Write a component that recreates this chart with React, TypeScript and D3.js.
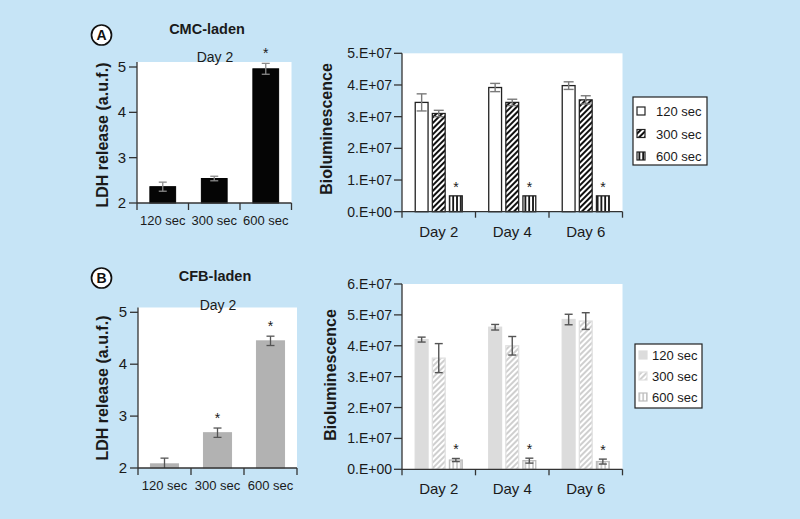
import React from 'react';
import * as d3 from 'd3';

const sizes = ['120 sec', '300 sec', '600 sec'];
const days = ['Day 2', 'Day 4', 'Day 6'];

const cmcLdh = [2.36, 2.54, 4.96];
const cmcLdhErr = [0.1, 0.05, 0.12];
const cmcLdhStar = [false, false, true];
const cfbLdh = [2.08, 2.68, 4.45];
const cfbLdhErr = [0.11, 0.09, 0.09];
const cfbLdhStar = [false, true, true];

const ldhTicks = [2, 3, 4, 5];

const cmcBio120 = [3.45e7, 3.92e7, 3.98e7];
const cmcBio120Err = [0.27e7, 0.13e7, 0.12e7];
const cmcBio300 = [3.1e7, 3.45e7, 3.53e7];
const cmcBio300Err = [0.1e7, 0.1e7, 0.13e7];
const cmcBio600 = [0.5e7, 0.5e7, 0.5e7];
const cmcBio600Err = [0, 0, 0];

const cfbBio120 = [4.2e7, 4.6e7, 4.85e7];
const cfbBio120Err = [0.08e7, 0.09e7, 0.17e7];
const cfbBio300 = [3.6e7, 4.0e7, 4.8e7];
const cfbBio300Err = [0.47e7, 0.3e7, 0.27e7];
const cfbBio600 = [0.3e7, 0.28e7, 0.25e7];
const cfbBio600Err = [0.05e7, 0.08e7, 0.08e7];

const cmcBioTicks = [0, 1e7, 2e7, 3e7, 4e7, 5e7];
const cfbBioTicks = [0, 1e7, 2e7, 3e7, 4e7, 5e7, 6e7];
const bioTickLabel = (v: number) => `${Math.round(v / 1e7)}.E+${v === 0 ? '00' : '07'}`;

const FONT = '"Liberation Sans", Arial, Helvetica, sans-serif';
const TXT = '#1a1a1a';
const BG = '#c6e4f6';

type LdhProps = {
  x0: number; x1: number; yBottom: number; yTop: number; yFive: number;
  values: number[]; errs: number[]; stars: boolean[];
  fill: string; stroke: string; errColor: string; barFrac: number; cap: number;
  title: string; titleX: number; titleY: number; dayX: number; dayY: number;
  letter: string; letterY: number; ylabelY: number;
};

function LdhPanel(p: LdhProps) {
  const y = d3.scaleLinear().domain([2, 5]).range([p.yBottom, p.yFive]);
  const x = d3.scaleBand<string>().domain(sizes).range([p.x0, p.x1]).padding(0);
  const bw = x.bandwidth() * p.barFrac;
  const bounds = [...sizes.map((s) => x(s)!), p.x1];
  return (
    <g>
      <rect x={p.x0} y={p.yTop} width={p.x1 - p.x0} height={p.yBottom - p.yTop} fill="#fff" />
      {sizes.map((s, i) => {
        const cx = x(s)! + x.bandwidth() / 2;
        const v = p.values[i];
        const e = p.errs[i];
        const yt = y(v + e);
        const yb = Math.min(y(v - e), p.yBottom);
        return (
          <g key={s}>
            <rect x={cx - bw / 2} y={y(v)} width={bw} height={p.yBottom - y(v)} fill={p.fill} stroke={p.stroke} strokeWidth={1} />
            <line x1={cx} x2={cx} y1={yt} y2={yb} stroke={p.errColor} strokeWidth={1.3} />
            <line x1={cx - p.cap / 2} x2={cx + p.cap / 2} y1={yt} y2={yt} stroke={p.errColor} strokeWidth={1.3} />
            {yb < p.yBottom - 0.5 && (
              <line x1={cx - p.cap / 2} x2={cx + p.cap / 2} y1={yb} y2={yb} stroke={p.errColor} strokeWidth={1.3} />
            )}
            {p.stars[i] && (
              <text x={cx} y={yt - 5} textAnchor="middle" fontSize={14} fill={TXT}>*</text>
            )}
            <text x={cx} y={p.yBottom + 22} textAnchor="middle" fontSize={13} fill={TXT}>{s}</text>
          </g>
        );
      })}
      <line x1={p.x0} x2={p.x0} y1={p.yTop} y2={p.yBottom} stroke="#333" strokeWidth={1.3} />
      <line x1={p.x0} x2={p.x1} y1={p.yBottom} y2={p.yBottom} stroke="#333" strokeWidth={1.3} />
      {bounds.map((b, i) => (
        <line key={i} x1={b} x2={b} y1={p.yBottom} y2={p.yBottom + 7} stroke="#333" strokeWidth={1.3} />
      ))}
      {ldhTicks.map((t) => (
        <g key={t}>
          <line x1={p.x0 - 8} x2={p.x0} y1={y(t)} y2={y(t)} stroke="#333" strokeWidth={1.3} />
          <text x={p.x0 - 11} y={y(t) + 5} textAnchor="end" fontSize={15} fill={TXT}>{t}</text>
        </g>
      ))}
      <text transform={`translate(${108},${p.ylabelY}) rotate(-90)`} textAnchor="middle" fontSize={16} fontWeight="bold" fill={TXT}>
        LDH release (a.u.f.)
      </text>
      <text x={p.titleX} y={p.titleY} textAnchor="middle" fontSize={14.5} fontWeight="bold" fill={TXT}>{p.title}</text>
      <text x={p.dayX} y={p.dayY} textAnchor="middle" fontSize={14} fill={TXT}>Day 2</text>
      <circle cx={101.5} cy={p.letterY} r={10} fill="#fff" stroke="#111" strokeWidth={1.7} />
      <text x={101.5} y={p.letterY + 5} textAnchor="middle" fontSize={14} fontWeight="bold" fill="#111">{p.letter}</text>
    </g>
  );
}

type BioProps = {
  x0: number; x1: number; yBottom: number; yTop: number; yMax: number; ticks: number[];
  series: number[][]; errs: number[][]; fills: string[]; strokes: string[]; errColor: string; cap: number;
  ylabelX: number; ylabelY: number;
  legend: { x: number; y: number; w: number; h: number; rows: number[]; swX: number; txX: number; sw: number };
};

function BioPanel(p: BioProps) {
  const y = d3.scaleLinear().domain([0, p.yMax]).range([p.yBottom, p.yTop]);
  const x = d3.scaleBand<string>().domain(days).range([p.x0, p.x1]).padding(0);
  const bw = x.bandwidth();
  const inner = d3.scaleBand<string>().domain(sizes).range([bw * 0.18, bw * 0.82]).paddingInner(0.25);
  const bounds = [...days.map((d) => x(d)!), p.x1];
  return (
    <g>
      <rect x={p.x0} y={p.yTop} width={p.x1 - p.x0} height={p.yBottom - p.yTop} fill="#fff" />
      {days.map((d, di) => (
        <g key={d}>
          {sizes.map((s, si) => {
            const v = p.series[si][di];
            const e = p.errs[si][di];
            const bx = x(d)! + inner(s)!;
            const cx = bx + inner.bandwidth() / 2;
            const yt = y(v + e);
            const yb = y(v - e);
            return (
              <g key={s}>
                <rect x={bx} y={y(v)} width={inner.bandwidth()} height={p.yBottom - y(v)} fill={p.fills[si]} stroke={p.strokes[si]} strokeWidth={1.3} />
                {e > 0 && (
                  <g stroke={p.errColor} strokeWidth={1.4}>
                    <line x1={cx} x2={cx} y1={yt} y2={yb} />
                    <line x1={cx - p.cap / 2} x2={cx + p.cap / 2} y1={yt} y2={yt} />
                    <line x1={cx - p.cap / 2} x2={cx + p.cap / 2} y1={yb} y2={yb} />
                  </g>
                )}
                {si === 2 && (
                  <text x={cx} y={yt - 4} textAnchor="middle" fontSize={14} fill={TXT}>*</text>
                )}
              </g>
            );
          })}
          <text x={x(d)! + bw / 2} y={p.yBottom + 25} textAnchor="middle" fontSize={15} fill={TXT}>{d}</text>
        </g>
      ))}
      <line x1={p.x0} x2={p.x0} y1={p.yTop} y2={p.yBottom} stroke="#333" strokeWidth={1.3} />
      <line x1={p.x0} x2={p.x1} y1={p.yBottom} y2={p.yBottom} stroke="#333" strokeWidth={1.3} />
      {bounds.map((b, i) => (
        <line key={i} x1={b} x2={b} y1={p.yBottom} y2={p.yBottom + 6} stroke="#333" strokeWidth={1.3} />
      ))}
      {p.ticks.map((t) => (
        <g key={t}>
          <line x1={p.x0 - 8} x2={p.x0} y1={y(t)} y2={y(t)} stroke="#333" strokeWidth={1.3} />
          <text x={p.x0 - 10} y={y(t) + 5} textAnchor="end" fontSize={14} fill={TXT}>{bioTickLabel(t)}</text>
        </g>
      ))}
      <text transform={`translate(${p.ylabelX},${p.ylabelY}) rotate(-90)`} textAnchor="middle" fontSize={16} fontWeight="bold" fill={TXT}>
        Bioluminescence
      </text>
      <rect x={p.legend.x} y={p.legend.y} width={p.legend.w} height={p.legend.h} fill="#fff" stroke="#222" strokeWidth={1.2} />
      {sizes.map((s, si) => (
        <g key={s}>
          <rect x={p.legend.swX} y={p.legend.rows[si] - p.legend.sw / 2} width={p.legend.sw} height={p.legend.sw} fill={p.fills[si]} stroke={p.strokes[si]} strokeWidth={1.2} />
          <text x={p.legend.txX} y={p.legend.rows[si] + 5} fontSize={13} fill={TXT}>{s}</text>
        </g>
      ))}
    </g>
  );
}

export default function App() {
  return (
    <svg width={800} height={519} style={{ position: 'absolute', left: 0, top: 0, fontFamily: FONT }}>
      <defs>
        <pattern id="hatchA" patternUnits="userSpaceOnUse" width={4} height={4} patternTransform="rotate(45)">
          <rect width={4} height={4} fill="#fff" />
          <line x1={1} x2={1} y1={0} y2={4} stroke="#111" strokeWidth={2} />
        </pattern>
        <pattern id="vertA" patternUnits="userSpaceOnUse" width={3.8} height={4}>
          <rect width={3.8} height={4} fill="#fff" />
          <line x1={1} x2={1} y1={0} y2={4} stroke="#111" strokeWidth={1.8} />
        </pattern>
        <pattern id="hatchB" patternUnits="userSpaceOnUse" width={4} height={4} patternTransform="rotate(45)">
          <rect width={4} height={4} fill="#fff" />
          <line x1={1} x2={1} y1={0} y2={4} stroke="#cfcfcf" strokeWidth={2} />
        </pattern>
        <pattern id="vertB" patternUnits="userSpaceOnUse" width={3.8} height={4}>
          <rect width={3.8} height={4} fill="#fff" />
          <line x1={1} x2={1} y1={0} y2={4} stroke="#c4c4c4" strokeWidth={1.6} />
        </pattern>
      </defs>
      <rect width={800} height={519} fill={BG} />

      <LdhPanel
        x0={137} x1={291.5} yBottom={203} yTop={62} yFive={67}
        values={cmcLdh} errs={cmcLdhErr} stars={cmcLdhStar}
        fill="#050505" stroke="#000" errColor="#8a8a8a" barFrac={0.5} cap={8}
        title="CMC-laden" titleX={207} titleY={34} dayX={215} dayY={62}
        letter="A" letterY={35} ylabelY={135}
      />
      <LdhPanel
        x0={138} x1={297} yBottom={468} yTop={307.5} yFive={312.3}
        values={cfbLdh} errs={cfbLdhErr} stars={cfbLdhStar}
        fill="#b2b2b2" stroke="#b2b2b2" errColor="#555" barFrac={0.53} cap={8}
        title="CFB-laden" titleX={215} titleY={281} dayX={218} dayY={310}
        letter="B" letterY={278} ylabelY={388}
      />

      <BioPanel
        x0={402} x1={622.5} yBottom={211.7} yTop={53.3} yMax={5e7} ticks={cmcBioTicks}
        series={[cmcBio120, cmcBio300, cmcBio600]} errs={[cmcBio120Err, cmcBio300Err, cmcBio600Err]}
        fills={['#fff', 'url(#hatchA)', 'url(#vertA)']} strokes={['#222', '#222', '#222']}
        errColor="#7a7a7a" cap={10} ylabelX={332} ylabelY={129}
        legend={{ x: 633, y: 97, w: 74, h: 68, rows: [111, 133.5, 156], swX: 637, txX: 656, sw: 8 }}
      />
      <BioPanel
        x0={402} x1={622.5} yBottom={469.3} yTop={284} yMax={6e7} ticks={cfbBioTicks}
        series={[cfbBio120, cfbBio300, cfbBio600]} errs={[cfbBio120Err, cfbBio300Err, cfbBio600Err]}
        fills={['#dcdcdc', 'url(#hatchB)', 'url(#vertB)']} strokes={['#dcdcdc', '#e0e0e0', '#bdbdbd']}
        errColor="#555" cap={8} ylabelX={336} ylabelY={375}
        legend={{ x: 635, y: 344, w: 67, h: 64, rows: [355, 376, 397], swX: 639, txX: 652, sw: 8 }}
      />
    </svg>
  );
}
